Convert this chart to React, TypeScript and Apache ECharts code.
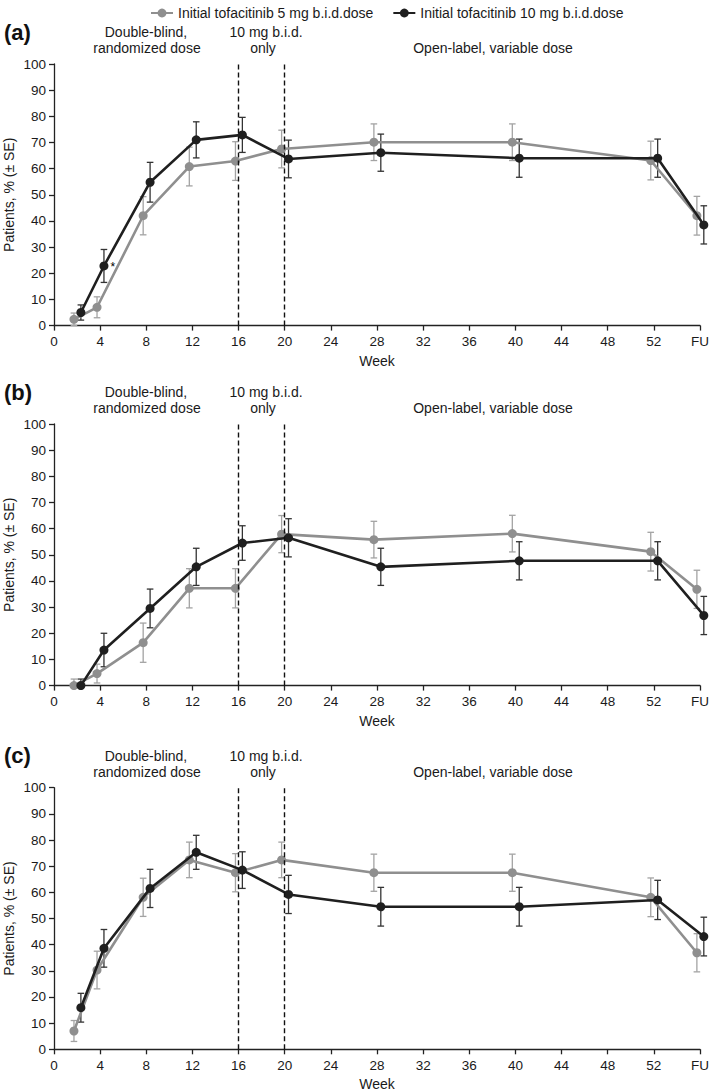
import React, { useEffect, useRef } from "react";
import * as echarts from "echarts";

// ---- Data ----
const WEEKS = [2, 4, 8, 12, 16, 20, 28, 40, 52, 56]; // 56 = FU
const X_TICK_FU = 56;
const SERIES_NAMES = ["Initial tofacitinib 5 mg b.i.d.dose", "Initial tofacitinib 10 mg b.i.d.dose"];
const PANEL_LABELS = ["(a)", "(b)", "(c)"];
const PHASE_LINES = [16, 20];
const Y_NAME = "Patients, % (± SE)";

// Panel (a)
const gray5A = [2.4, 7.0, 42.0, 60.8, 62.9, 67.5, 70.1, 70.1, 63.1, 42.0];
const seGray5A = [2.4, 4.0, 7.3, 7.4, 7.4, 7.2, 7.0, 7.0, 7.4, 7.4];
const black10A = [5.0, 22.8, 54.8, 71.0, 72.9, 63.7, 66.1, 64.0, 64.0, 38.5];
const seBlack10A = [2.9, 6.3, 7.6, 6.9, 6.7, 7.2, 7.1, 7.3, 7.3, 7.3];

// Panel (b)
const gray5B = [0, 4.6, 16.4, 37.2, 37.2, 57.9, 55.8, 58.1, 51.2, 36.8];
const seGray5B = [2.5, 3.6, 7.5, 7.5, 7.5, 7.1, 7.0, 7.0, 7.4, 7.3];
const black10B = [0, 13.6, 29.5, 45.4, 54.5, 56.5, 45.4, 47.7, 47.7, 26.8];
const seBlack10B = [2.5, 6.4, 7.4, 7.1, 6.6, 7.3, 7.1, 7.3, 7.3, 7.3];

// Panel (c)
const gray5C = [7.0, 30.3, 58.1, 72.4, 67.5, 72.4, 67.5, 67.5, 58.1, 36.9];
const seGray5C = [4.0, 7.2, 7.3, 6.8, 7.3, 6.8, 7.1, 7.1, 7.4, 7.3];
const black10C = [15.9, 38.6, 61.5, 75.3, 68.5, 59.2, 54.5, 54.5, 57.1, 43.1];
const seBlack10C = [5.5, 7.2, 7.3, 6.5, 7.0, 7.3, 7.4, 7.4, 7.5, 7.4];

const PANELS = [
  { gray: gray5A, grayErr: seGray5A, black: black10A, blackErr: seBlack10A },
  { gray: gray5B, grayErr: seGray5B, black: black10B, blackErr: seBlack10B },
  { gray: gray5C, grayErr: seGray5C, black: black10C, blackErr: seBlack10C },
];

// ---- Layout / style ----
const PANEL_TOPS = [64, 424, 787.7];
const GRID_LEFT = 54;
const GRID_WIDTH = 646;
const GRID_HEIGHT = 261.6;
const OFF_GRAY = -0.27;
const OFF_BLACK = 0.33;
const GRAY = "#8f8f8f";
const GRAY_ERR = "#a3a3a3";
const BLACK = "#1f1f1f";
const BLACK_ERR = "#333333";
const FONT = "'Liberation Sans', Arial, Helvetica, sans-serif";
const TXT = "#1a1a1a";

function errRender(color: string) {
  return (params: any, api: any) => {
    const x = api.value(0);
    const lo = api.value(1);
    const hi = api.value(2);
    const pLo = api.coord([x, lo]);
    const pHi = api.coord([x, hi]);
    const cap = 3.3;
    const style = { stroke: color, lineWidth: 1.3 };
    return {
      type: "group",
      children: [
        { type: "line", shape: { x1: pLo[0], y1: pLo[1], x2: pHi[0], y2: pHi[1] }, style },
        { type: "line", shape: { x1: pHi[0] - cap, y1: pHi[1], x2: pHi[0] + cap, y2: pHi[1] }, style },
        { type: "line", shape: { x1: pLo[0] - cap, y1: pLo[1], x2: pLo[0] + cap, y2: pLo[1] }, style },
      ],
    };
  };
}

export default function App() {
  const ref = useRef<HTMLDivElement>(null);
  useEffect(() => {
    if (!ref.current) return;
    const chart = echarts.init(ref.current, undefined, { renderer: "svg" });

    const grids: any[] = [];
    const xAxes: any[] = [];
    const yAxes: any[] = [];
    const series: any[] = [];
    const graphics: any[] = [];

    PANELS.forEach((p, i) => {
      const top = PANEL_TOPS[i];
      grids.push({
        left: GRID_LEFT,
        top,
        width: GRID_WIDTH,
        height: GRID_HEIGHT,
        containLabel: false,
        outerBoundsMode: "none",
      });
      xAxes.push({
        type: "value",
        gridIndex: i,
        min: 0,
        max: X_TICK_FU,
        interval: 4,
        name: "Week",
        nameLocation: "middle",
        nameGap: 28,
        nameTextStyle: { fontSize: 14, color: TXT, fontFamily: FONT },
        axisLine: { show: true, onZero: false, lineStyle: { color: "#222", width: 1.3 } },
        axisTick: { show: true, inside: false, length: 5, lineStyle: { color: "#222", width: 1.3 } },
        axisLabel: {
          margin: 9,
          fontSize: 13.5,
          color: TXT,
          fontFamily: FONT,
          formatter: (v: number) => (v === X_TICK_FU ? "FU" : String(v)),
        },
        splitLine: { show: false },
      });
      yAxes.push({
        type: "value",
        gridIndex: i,
        min: 0,
        max: 100,
        interval: 10,
        axisLine: { show: true, lineStyle: { color: "#222", width: 1.3 } },
        axisTick: { show: true, inside: false, length: 5, lineStyle: { color: "#222", width: 1.3 } },
        axisLabel: { margin: 8, fontSize: 13.5, color: TXT, fontFamily: FONT },
        splitLine: { show: false },
      });

      // error bars
      series.push({
        type: "custom",
        xAxisIndex: i,
        yAxisIndex: i,
        renderItem: errRender(GRAY_ERR),
        data: WEEKS.map((w, j) => [w + OFF_GRAY, Math.max(0, p.gray[j] - p.grayErr[j]), p.gray[j] + p.grayErr[j]]),
        encode: { x: 0, y: [1, 2] },
        silent: true,
        z: 2,
      });
      series.push({
        type: "custom",
        xAxisIndex: i,
        yAxisIndex: i,
        renderItem: errRender(BLACK_ERR),
        data: WEEKS.map((w, j) => [w + OFF_BLACK, Math.max(0, p.black[j] - p.blackErr[j]), p.black[j] + p.blackErr[j]]),
        encode: { x: 0, y: [1, 2] },
        silent: true,
        z: 2,
      });

      series.push({
        name: SERIES_NAMES[0],
        type: "line",
        xAxisIndex: i,
        yAxisIndex: i,
        clip: false,
        symbol: "circle",
        symbolSize: 9,
        lineStyle: { color: GRAY, width: 2.6 },
        itemStyle: { color: GRAY },
        data: WEEKS.map((w, j) => [w + OFF_GRAY, p.gray[j]]),
        z: 3,
        markLine: {
          silent: true,
          symbol: "none",
          label: { show: false },
          lineStyle: { color: "#111", type: [5, 3], width: 1.4 },
          data: PHASE_LINES.map((x) => ({ xAxis: x })),
        },
      });
      series.push({
        name: SERIES_NAMES[1],
        type: "line",
        xAxisIndex: i,
        yAxisIndex: i,
        clip: false,
        symbol: "circle",
        symbolSize: 9,
        lineStyle: { color: BLACK, width: 2.6 },
        itemStyle: { color: BLACK },
        data: WEEKS.map((w, j) => {
          const d: any = { value: [w + OFF_BLACK, p.black[j]] };
          if (i === 0 && j === 1) {
            d.label = {
              show: true,
              formatter: "*",
              position: "right",
              distance: 2,
              offset: [0, 1],
              fontSize: 12,
              color: "#000000",
              fontFamily: FONT,
            };
          }
          return d;
        }),
        z: 4,
      });

      const line1 = top - 32;
      const line2 = top - 16;
      graphics.push(
        {
          type: "text",
          x: 8.5,
          y: top + GRID_HEIGHT / 2,
          rotation: Math.PI / 2,
          style: {
            text: Y_NAME,
            font: `14px ${FONT}`,
            fill: TXT,
            textAlign: "center",
            textVerticalAlign: "middle",
          },
        },
        {
          type: "text",
          x: 4,
          y: line1,
          style: {
            text: PANEL_LABELS[i],
            font: `bold 22px ${FONT}`,
            fill: "#111",
            textVerticalAlign: "middle",
          },
        },
        {
          type: "text",
          x: 146,
          y: line1,
          style: { text: "Double-blind,", font: `14px ${FONT}`, fill: TXT, textAlign: "center", textVerticalAlign: "middle" },
        },
        {
          type: "text",
          x: 147,
          y: line2,
          style: { text: "randomized dose", font: `14px ${FONT}`, fill: TXT, textAlign: "center", textVerticalAlign: "middle" },
        },
        {
          type: "text",
          x: 266,
          y: line1,
          style: { text: "10 mg b.i.d.", font: `14px ${FONT}`, fill: TXT, textAlign: "center", textVerticalAlign: "middle" },
        },
        {
          type: "text",
          x: 263,
          y: line2,
          style: { text: "only", font: `14px ${FONT}`, fill: TXT, textAlign: "center", textVerticalAlign: "middle" },
        },
        {
          type: "text",
          x: 493,
          y: line2,
          style: {
            text: "Open-label, variable dose",
            font: `14px ${FONT}`,
            fill: TXT,
            textAlign: "center",
            textVerticalAlign: "middle",
          },
        }
      );
    });

    chart.setOption({
      animation: false,
      backgroundColor: "#ffffff",
      textStyle: { fontFamily: FONT },
      legend: {
        data: SERIES_NAMES,
        left: 145,
        top: 1,
        itemWidth: 22,
        itemHeight: 11,
        itemGap: 19,
        textStyle: { fontSize: 14, color: TXT, fontFamily: FONT },
        selectedMode: false,
      },
      grid: grids,
      xAxis: xAxes,
      yAxis: yAxes,
      series,
      graphic: graphics,
    });

    return () => chart.dispose();
  }, []);

  return (
    <div
      ref={ref}
      style={{ position: "absolute", left: 0, top: 0, width: 709, height: 1092, background: "#fff" }}
    />
  );
}
